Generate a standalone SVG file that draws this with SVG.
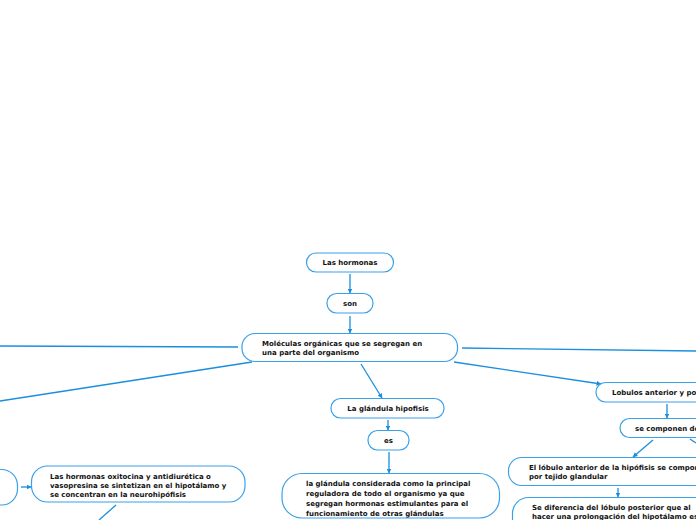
<svg xmlns="http://www.w3.org/2000/svg" width="696" height="520" viewBox="0 0 696 520">
<defs>
<marker id="ah" viewBox="0 0 10 10" refX="9" refY="5" markerWidth="5" markerHeight="5" orient="auto" markerUnits="userSpaceOnUse">
<path d="M0,0 L10,5 L0,10 z" fill="#1a8fdf"/>
</marker>
<style>
.n{fill:#fff;stroke:#3aa0e8;stroke-width:1.2}
.c{stroke:#1a8fdf;stroke-width:1.3;fill:none}
.a{marker-end:url(#ah)}
text{font-family:"DejaVu Sans","Verdana",sans-serif;font-weight:bold;font-size:7px;fill:#111}
</style>
</defs>
<rect width="696" height="520" fill="#fff"/>
<g id="connectors">
<line class="c a" x1="350" y1="274" x2="350" y2="293"/>
<line class="c a" x1="350" y1="316" x2="350" y2="333"/>
<line class="c" x1="238" y1="347" x2="0" y2="346"/>
<line class="c" x1="252" y1="362" x2="0" y2="401"/>
<line class="c" x1="462" y1="348" x2="696" y2="351"/>
<line class="c a" x1="454" y1="362" x2="601" y2="384"/>
<line class="c a" x1="361" y1="364" x2="382" y2="398"/>
<line class="c a" x1="388" y1="420" x2="388" y2="430"/>
<line class="c a" x1="389" y1="452" x2="389" y2="473"/>
<line class="c a" x1="667" y1="404" x2="667" y2="418"/>
<line class="c a" x1="653" y1="440" x2="633" y2="457"/>
<line class="c" x1="690" y1="439" x2="696" y2="443"/>
<line class="c a" x1="618" y1="488" x2="618" y2="497"/>
<line class="c a" x1="21" y1="487" x2="31" y2="487"/>
<line class="c" x1="116" y1="505" x2="99" y2="520"/>
</g>
<g id="n-hormonas"><rect class="n" x="306.5" y="253" width="87" height="19" rx="9.5"/><text x="350" y="265" text-anchor="middle">Las hormonas</text></g>
<g id="n-son"><rect class="n" x="327" y="293.5" width="46" height="19.5" rx="9.5"/><text x="350" y="306" text-anchor="middle">son</text></g>
<g id="n-moleculas"><rect class="n" x="242" y="333.5" width="215.5" height="28" rx="13"/><text x="262" y="346">Moléculas orgánicas que se segregan en</text><text x="262" y="354.5">una parte del organismo</text></g>
<g id="n-glandula"><rect class="n" x="331" y="398.5" width="113" height="19.5" rx="9.5"/><text x="388" y="411" text-anchor="middle">La glándula hipofisis</text></g>
<g id="n-es"><rect class="n" x="368" y="430.5" width="41" height="19.5" rx="9.5"/><text x="388.5" y="443" text-anchor="middle">es</text></g>
<g id="n-principal"><rect class="n" x="282" y="473.5" width="217.5" height="44.5" rx="20"/><text x="306" y="486">la glándula considerada como la principal</text><text x="306" y="496">reguladora de todo el organismo ya que</text><text x="306" y="506">segregan hormonas estimulantes para el</text><text x="306" y="515.5">funcionamiento de otras glándulas</text></g>
<g id="n-lobulos"><rect class="n" x="596" y="382.5" width="120" height="19.5" rx="9.5"/><text x="612" y="395">Lobulos anterior y posterior</text></g>
<g id="n-componen"><rect class="n" x="620" y="418.5" width="100" height="19" rx="9.5"/><text x="635" y="431">se componen de</text></g>
<g id="n-anterior"><rect class="n" x="508.5" y="457.5" width="220" height="28" rx="13"/><text x="529" y="470">El lóbulo anterior de la hipófisis se compone</text><text x="529" y="478.5">por tejido glandular</text></g>
<g id="n-diferencia"><rect class="n" x="512.5" y="497.5" width="220" height="40" rx="16"/><text x="532" y="510">Se diferencia del lóbulo posterior que al</text><text x="532" y="518.5">hacer una prolongación del hipotálamo es</text></g>
<g id="n-left"><rect class="n" x="-60" y="469.5" width="77.5" height="35.5" rx="16"/></g>
<g id="n-oxitocina"><rect class="n" x="31.5" y="466" width="213.5" height="36" rx="16"/><text x="50" y="478.5">Las hormonas oxitocina y antidiurética o</text><text x="50" y="487.5">vasopresina se sintetizan en el hipotálamo y</text><text x="50" y="496.5">se concentran en la neurohipófisis</text></g>
</svg>
